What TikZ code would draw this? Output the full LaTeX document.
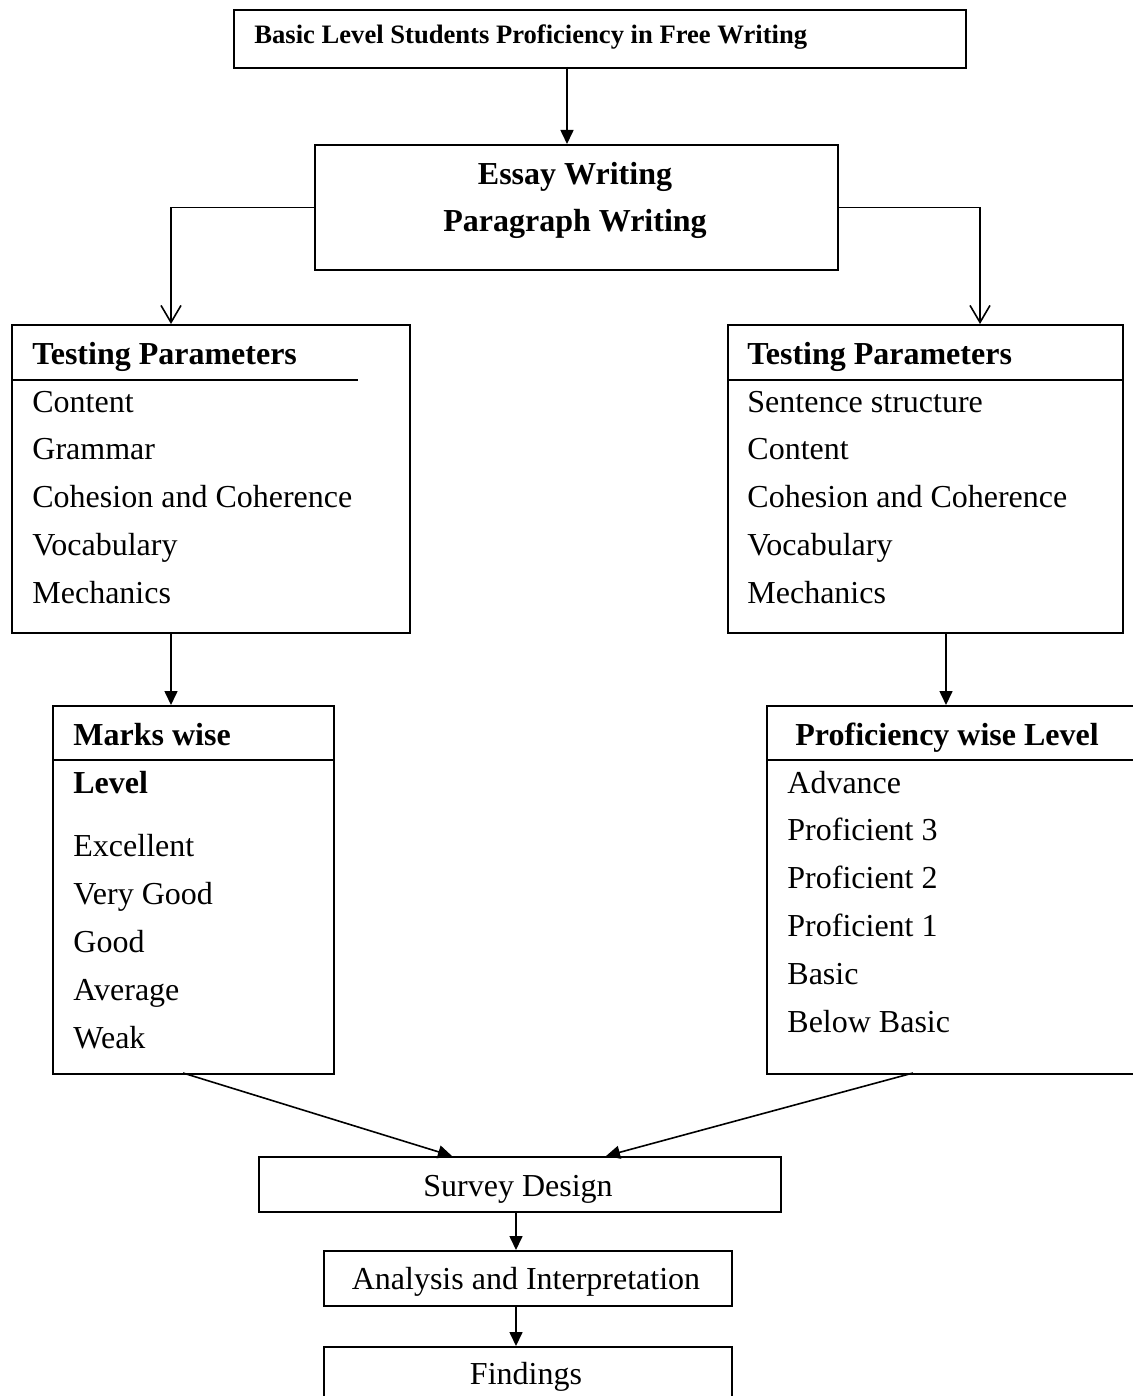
\documentclass[tikz,border=0pt]{standalone}
\usepackage{fontspec}
\setmainfont{Liberation Serif}
\usetikzlibrary{arrows.meta}
\tikzset{
  box/.style={draw, line width=0.9pt, rectangle, inner sep=0pt, anchor=north west},
  txt/.style={inner sep=0pt, anchor=base west, font=\fontsize{16}{19}\selectfont},
  btxt/.style={inner sep=0pt, anchor=base west, font=\fontsize{16}{19}\selectfont\bfseries},
  ctxt/.style={inner sep=0pt, anchor=base, font=\fontsize{16}{19}\selectfont},
  cbtxt/.style={inner sep=0pt, anchor=base, font=\fontsize{16}{19}\selectfont\bfseries},
  sep/.style={line width=0.8pt},
  farrow/.style={line width=0.8pt, -{Triangle[length=7pt,width=6.5pt]}},
  varrow/.style={line width=0.8pt, -{Straight Barb[length=8.5pt,width=10pt,line width=0.8pt]}}
}
\begin{document}
\begin{tikzpicture}[x=0.5pt,y=-0.5pt]
\useasboundingbox (0,0) rectangle (1133,1396);
\clip (0,0) rectangle (1133,1396);
\fill[white] (0,0) rectangle (1133,1396);

% boxes
\node[box, minimum width=366pt, minimum height=29pt] (top) at (233,9) {};
\node[box, minimum width=261.5pt, minimum height=62.5pt] (essay) at (314,144) {};
\node[box, minimum width=199pt, minimum height=154pt] (tpL) at (11,324) {};
\node[box, minimum width=197.5pt, minimum height=154pt] (tpR) at (727,324) {};
\node[box, minimum width=140.5pt, minimum height=184pt] (marks) at (52,705) {};
\node[box, minimum width=200pt, minimum height=184pt] (prof) at (766,705) {};
\node[box, minimum width=261pt, minimum height=27.5pt] (survey) at (258,1156) {};
\node[box, minimum width=204pt, minimum height=27.5pt] (analysis) at (323,1250) {};
\node[box, minimum width=204pt, minimum height=40pt] (findings) at (323,1346) {};

% top text
\node[inner sep=0pt, anchor=base west, font=\fontsize{13.3}{16}\selectfont\bfseries] (ttop) at (254,44) {Basic Level Students Proficiency in Free Writing};

% essay text
\node[cbtxt] (e1) at (575,185) {Essay Writing};
\node[cbtxt] (e2) at (575,232) {Paragraph Writing};

% left testing parameters
\node[btxt] (lh) at (32,364) {Testing Parameters};
\draw[sep] (11,380) -- (358,380);
\node[txt] (l1) at (32,412) {Content};
\node[txt] (l2) at (32,459) {Grammar};
\node[txt] (l3) at (32,507) {Cohesion and Coherence};
\node[txt] (l4) at (32,555) {Vocabulary};
\node[txt] (l5) at (32,603) {Mechanics};

% right testing parameters
\node[btxt] (rh) at (747,364) {Testing Parameters};
\draw[sep] (727,380) -- (1122,380);
\node[txt] (r1) at (747,412) {Sentence structure};
\node[txt] (r2) at (747,459) {Content};
\node[txt] (r3) at (747,507) {Cohesion and Coherence};
\node[txt] (r4) at (747,555) {Vocabulary};
\node[txt] (r5) at (747,603) {Mechanics};

% marks wise
\node[btxt] (mh) at (73,745) {Marks wise};
\draw[sep] (52,760) -- (333,760);
\node[btxt] (mlev) at (73,793) {Level};
\node[txt] (m1) at (73,856) {Excellent};
\node[txt] (m2) at (73,904) {Very Good};
\node[txt] (m3) at (73,952) {Good};
\node[txt] (m4) at (73,1000) {Average};
\node[txt] (m5) at (73,1048) {Weak};

% proficiency wise
\node[btxt] (ph) at (795,745) {Proficiency wise Level};
\draw[sep] (766,760) -- (1140,760);
\node[txt] (p1) at (787,793) {Advance};
\node[txt] (p2) at (787,840) {Proficient 3};
\node[txt] (p3) at (787,888) {Proficient 2};
\node[txt] (p4) at (787,936) {Proficient 1};
\node[txt] (p5) at (787,984) {Basic};
\node[txt] (p6) at (787,1032) {Below Basic};

% bottom texts
\node[ctxt] (st) at (518,1196) {Survey Design};
\node[ctxt] (at) at (526,1289) {Analysis and Interpretation};
\node[ctxt] (ft) at (526,1384) {Findings};

% connector coordinates
\coordinate (topout) at (567,67);
\coordinate (essayin) at (567,144);
\coordinate (tlin) at (171,324);
\coordinate (trin) at (980,324);
\coordinate (tlout) at (171,634);
\coordinate (mkin) at (171,705);
\coordinate (trout) at (946,634);
\coordinate (pfin) at (946,705);
\coordinate (mkout) at (183,1073);
\coordinate (pfout) at (913,1073);
\coordinate (svinL) at (452,1156);
\coordinate (svinR) at (606,1156);
\coordinate (svout) at (516,1211);
\coordinate (anin) at (516,1250);
\coordinate (anout) at (516,1305);
\coordinate (fdin) at (516,1346);

% connectors
\draw[farrow] (topout) -- (essayin);
\draw[varrow] (essay.west) -| (tlin);
\draw[varrow] (essay.east) -| (trin);
\draw[farrow] (tlout) -- (mkin);
\draw[farrow] (trout) -- (pfin);
\draw[farrow] (mkout) -- (svinL);
\draw[farrow] (pfout) -- (svinR);
\draw[farrow] (svout) -- (anin);
\draw[farrow] (anout) -- (fdin);
\end{tikzpicture}
\end{document}
